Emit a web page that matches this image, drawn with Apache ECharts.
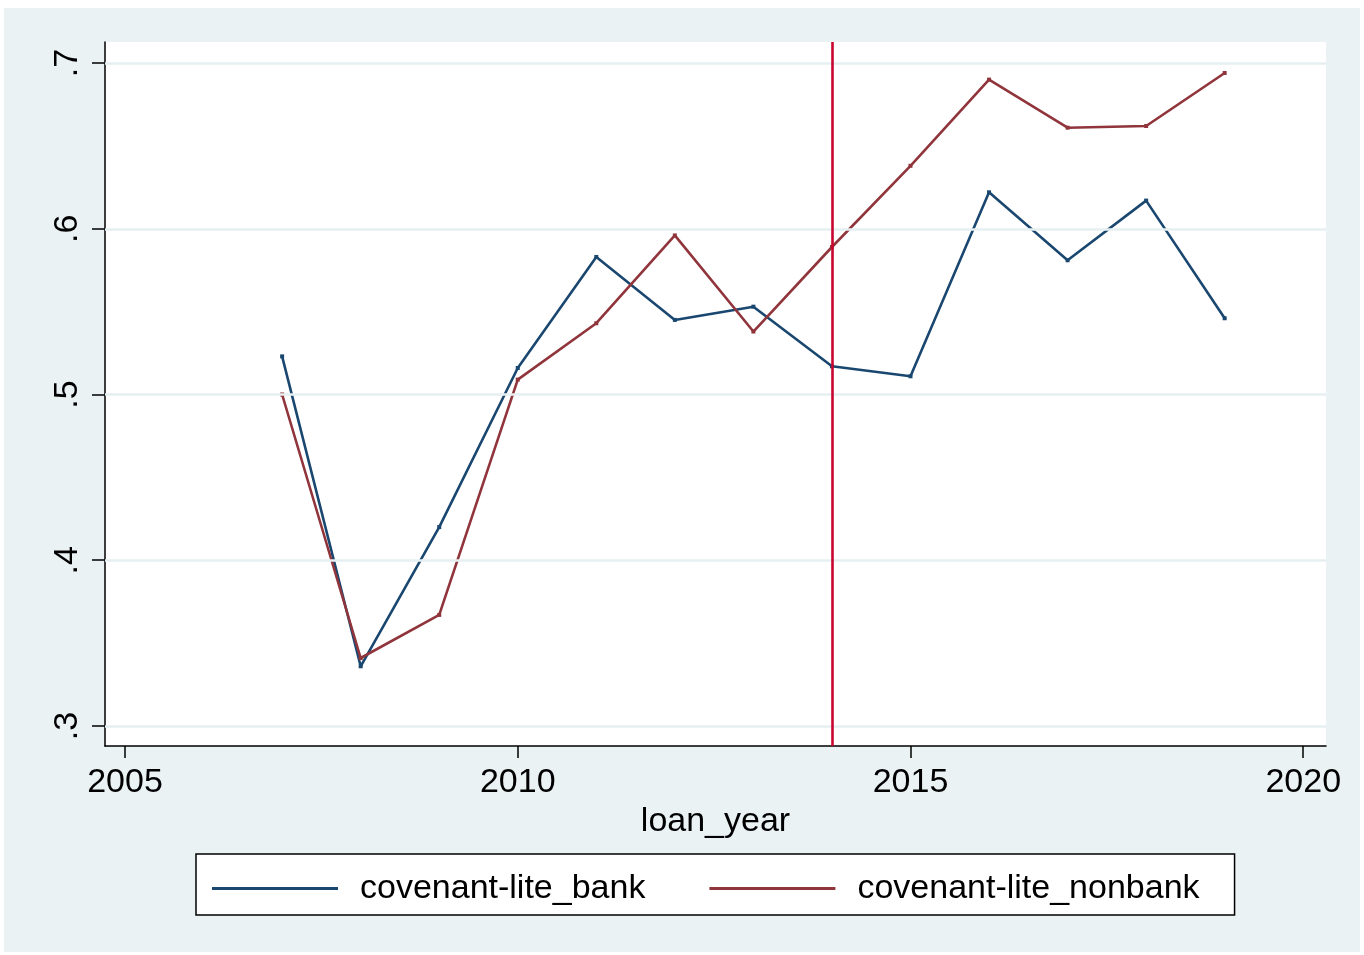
<!DOCTYPE html>
<html>
<head>
<meta charset="utf-8">
<script src="https://cdn.jsdelivr.net/npm/echarts@6/dist/echarts.min.js"></script>
<style>
  html, body { margin: 0; padding: 0; background: #ffffff; }
  #chart { position: absolute; left: 4px; top: 8px; width: 1356px; height: 944px; }
</style>
</head>
<body>
<div id="chart"></div>
<script>
// Share of covenant-lite loans by lender type, per loan year
const years = [2007, 2008, 2009, 2010, 2011, 2012, 2013, 2014, 2015, 2016, 2017, 2018, 2019];
const bankShare = [0.523, 0.336, 0.420, 0.516, 0.583, 0.545, 0.553, 0.517, 0.511, 0.622, 0.581, 0.617, 0.546];
const nonbankShare = [0.500, 0.341, 0.367, 0.509, 0.543, 0.596, 0.538, 0.589, 0.638, 0.690, 0.661, 0.662, 0.694];

const xTicks = [2005, 2010, 2015, 2020];
const yTicks = [0.3, 0.4, 0.5, 0.6, 0.7];
const eventYear = 2014;

const seriesNames = ['covenant-lite_bank', 'covenant-lite_nonbank'];
const FONT = '"Liberation Sans", Arial, Helvetica, sans-serif';

const chart = echarts.init(document.getElementById('chart'), null, { renderer: 'canvas' });

const pairs = (ys) => years.map((y, i) => [y, ys[i]]);

chart.setOption({
  backgroundColor: '#EAF2F3',
  animation: false,
  textStyle: { fontFamily: FONT, color: '#000' },
  grid: {
    left: 101, top: 34, right: 34, bottom: 206,
    show: true, backgroundColor: '#ffffff', borderWidth: 0
  },
  xAxis: {
    type: 'value',
    min: 2004.745, max: 2020.29,
    name: 'loan_year',
    nameLocation: 'middle',
    nameGap: 57,
    nameTextStyle: { fontSize: 34, color: '#000', fontFamily: FONT },
    axisLine: { show: true, onZero: false, lineStyle: { color: '#000', width: 1.5 } },
    axisTick: { show: true, length: 12, customValues: xTicks, lineStyle: { color: '#000', width: 1.5 } },
    axisLabel: {
      customValues: xTicks, fontSize: 34, color: '#000', margin: 20, fontFamily: FONT,
      formatter: (v) => String(v)
    },
    splitLine: { show: false }
  },
  yAxis: {
    type: 'value',
    min: 0.2879, max: 0.7127,
    axisLine: { show: true, onZero: false, lineStyle: { color: '#000', width: 1.5 } },
    axisTick: { show: true, length: 13, customValues: yTicks, lineStyle: { color: '#000', width: 1.5 } },
    axisLabel: {
      customValues: yTicks,
      rotate: 90,
      fontSize: 34,
      color: '#000',
      margin: 20,
      fontFamily: FONT,
      formatter: (v) => String(Math.round(v * 10) / 10).replace(/^0/, '')
    },
    splitLine: { show: false }
  },
  legend: {
    data: seriesNames.map((n) => ({ name: n, icon: 'rect' })),
    left: 192, top: 846,
    orient: 'horizontal',
    itemWidth: 126, itemHeight: 3,
    itemGap: 64,
    padding: [15, 35, 7, 16],
    borderColor: '#000', borderWidth: 1.5, borderRadius: 0,
    backgroundColor: '#ffffff',
    selectedMode: false,
    textStyle: { fontSize: 34, color: '#000', fontFamily: FONT, padding: [0, 0, 0, 17], lineHeight: 39 }
  },
  series: [
    {
      // horizontal grid lines
      type: 'line',
      data: [],
      silent: true,
      z: 1,
      markLine: {
        silent: true,
        symbol: 'none',
        label: { show: false },
        animation: false,
        data: yTicks.map((v) => ({ yAxis: v, lineStyle: { color: '#E6EFF1', width: 2.5, type: 'solid' } }))
      }
    },
    {
      name: seriesNames[0],
      type: 'line',
      data: pairs(bankShare),
      symbol: 'rect', symbolSize: 4, showSymbol: true,
      color: '#1A476F',
      lineStyle: { color: '#1A476F', width: 2.6 },
      itemStyle: { color: '#1A476F' },
      z: 3
    },
    {
      name: seriesNames[1],
      type: 'line',
      data: pairs(nonbankShare),
      symbol: 'rect', symbolSize: 4, showSymbol: true,
      color: '#90353B',
      lineStyle: { color: '#90353B', width: 2.6 },
      itemStyle: { color: '#90353B' },
      z: 3,
      markLine: {
        // event-year marker
        silent: true,
        symbol: 'none',
        label: { show: false },
        animation: false,
        data: [{ xAxis: eventYear, lineStyle: { color: '#C8062F', width: 2.6, type: 'solid' } }]
      }
    }
  ]
});
</script>
</body>
</html>
